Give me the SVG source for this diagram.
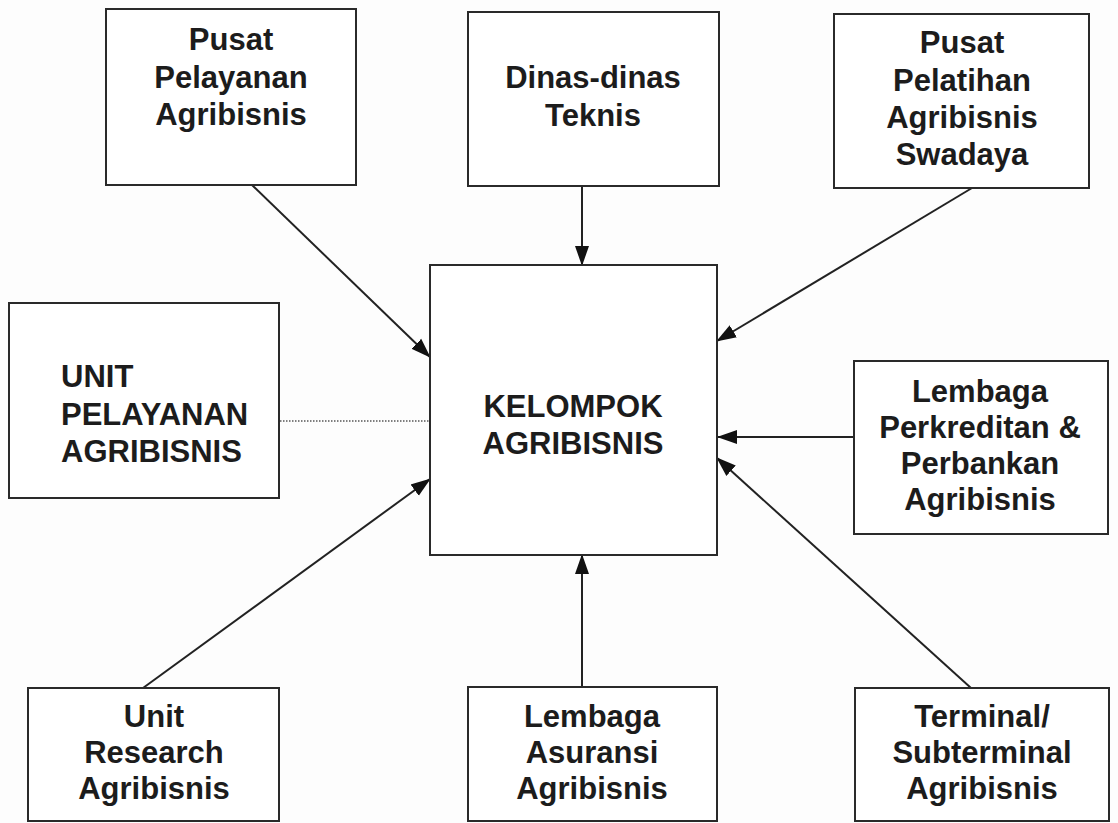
<svg xmlns="http://www.w3.org/2000/svg" width="1118" height="823" viewBox="0 0 1118 823">
<style>
.box{fill:#ffffff;stroke:#2a2a2a;stroke-width:2}
.t{font-family:"Liberation Sans",Arial,Helvetica,sans-serif;font-weight:bold;font-size:31px;fill:#1c1c1c;text-anchor:middle}
.tl{text-anchor:start}
.c{stroke:#222;stroke-width:2;fill:none}
.dot{stroke:#555;stroke-width:1.5;stroke-dasharray:1.5 1.5;fill:none}
</style>
<defs>
<marker id="ah" markerWidth="20" markerHeight="16" refX="19" refY="8" orient="auto" markerUnits="userSpaceOnUse">
<path d="M0,1 L20,8 L0,15 Z" fill="#111"/>
</marker>
</defs>
<rect width="1118" height="823" fill="#fdfdfd"/>
<g id="connectors">
<line class="c" x1="252" y1="185" x2="430" y2="357" marker-end="url(#ah)"/>
<line class="c" x1="582" y1="186" x2="582" y2="265" marker-end="url(#ah)"/>
<line class="c" x1="972" y1="188" x2="717" y2="341" marker-end="url(#ah)"/>
<line class="dot" x1="280" y1="421" x2="429" y2="421"/>
<line class="c" x1="854" y1="437" x2="718" y2="437" marker-end="url(#ah)"/>
<line class="c" x1="143" y1="688" x2="430" y2="479" marker-end="url(#ah)"/>
<line class="c" x1="582" y1="687" x2="582" y2="555" marker-end="url(#ah)"/>
<line class="c" x1="971" y1="688" x2="717" y2="458" marker-end="url(#ah)"/>
</g>
<g id="pusat-pelayanan">
<rect class="box" x="106" y="9" width="250" height="176"/>
<text class="t" x="231" y="50">Pusat</text>
<text class="t" x="231" y="88">Pelayanan</text>
<text class="t" x="231" y="125">Agribisnis</text>
</g>
<g id="dinas-teknis">
<rect class="box" x="468" y="12" width="251" height="174"/>
<text class="t" x="593" y="88">Dinas-dinas</text>
<text class="t" x="593" y="126">Teknis</text>
</g>
<g id="pusat-pelatihan">
<rect class="box" x="834" y="14" width="255" height="174"/>
<text class="t" x="962" y="53">Pusat</text>
<text class="t" x="962" y="91">Pelatihan</text>
<text class="t" x="962" y="128">Agribisnis</text>
<text class="t" x="962" y="165">Swadaya</text>
</g>
<g id="unit-pelayanan">
<rect class="box" x="9" y="303" width="270" height="195"/>
<text class="t tl" x="61" y="387">UNIT</text>
<text class="t tl" x="61" y="425">PELAYANAN</text>
<text class="t tl" x="61" y="462">AGRIBISNIS</text>
</g>
<g id="kelompok">
<rect class="box" x="430" y="265" width="287" height="290"/>
<text class="t" x="573" y="417">KELOMPOK</text>
<text class="t" x="573" y="454">AGRIBISNIS</text>
</g>
<g id="perkreditan">
<rect class="box" x="854" y="361" width="254" height="173"/>
<text class="t" x="980" y="402">Lembaga</text>
<text class="t" x="980" y="438">Perkreditan &amp;</text>
<text class="t" x="980" y="474">Perbankan</text>
<text class="t" x="980" y="510">Agribisnis</text>
</g>
<g id="unit-research">
<rect class="box" x="28" y="688" width="251" height="133"/>
<text class="t" x="154" y="727">Unit</text>
<text class="t" x="154" y="763">Research</text>
<text class="t" x="154" y="799">Agribisnis</text>
</g>
<g id="asuransi">
<rect class="box" x="468" y="687" width="249" height="134"/>
<text class="t" x="592" y="727">Lembaga</text>
<text class="t" x="592" y="763">Asuransi</text>
<text class="t" x="592" y="799">Agribisnis</text>
</g>
<g id="terminal">
<rect class="box" x="855" y="688" width="254" height="133"/>
<text class="t" x="982" y="727">Terminal/</text>
<text class="t" x="982" y="763">Subterminal</text>
<text class="t" x="982" y="799">Agribisnis</text>
</g>
</svg>
